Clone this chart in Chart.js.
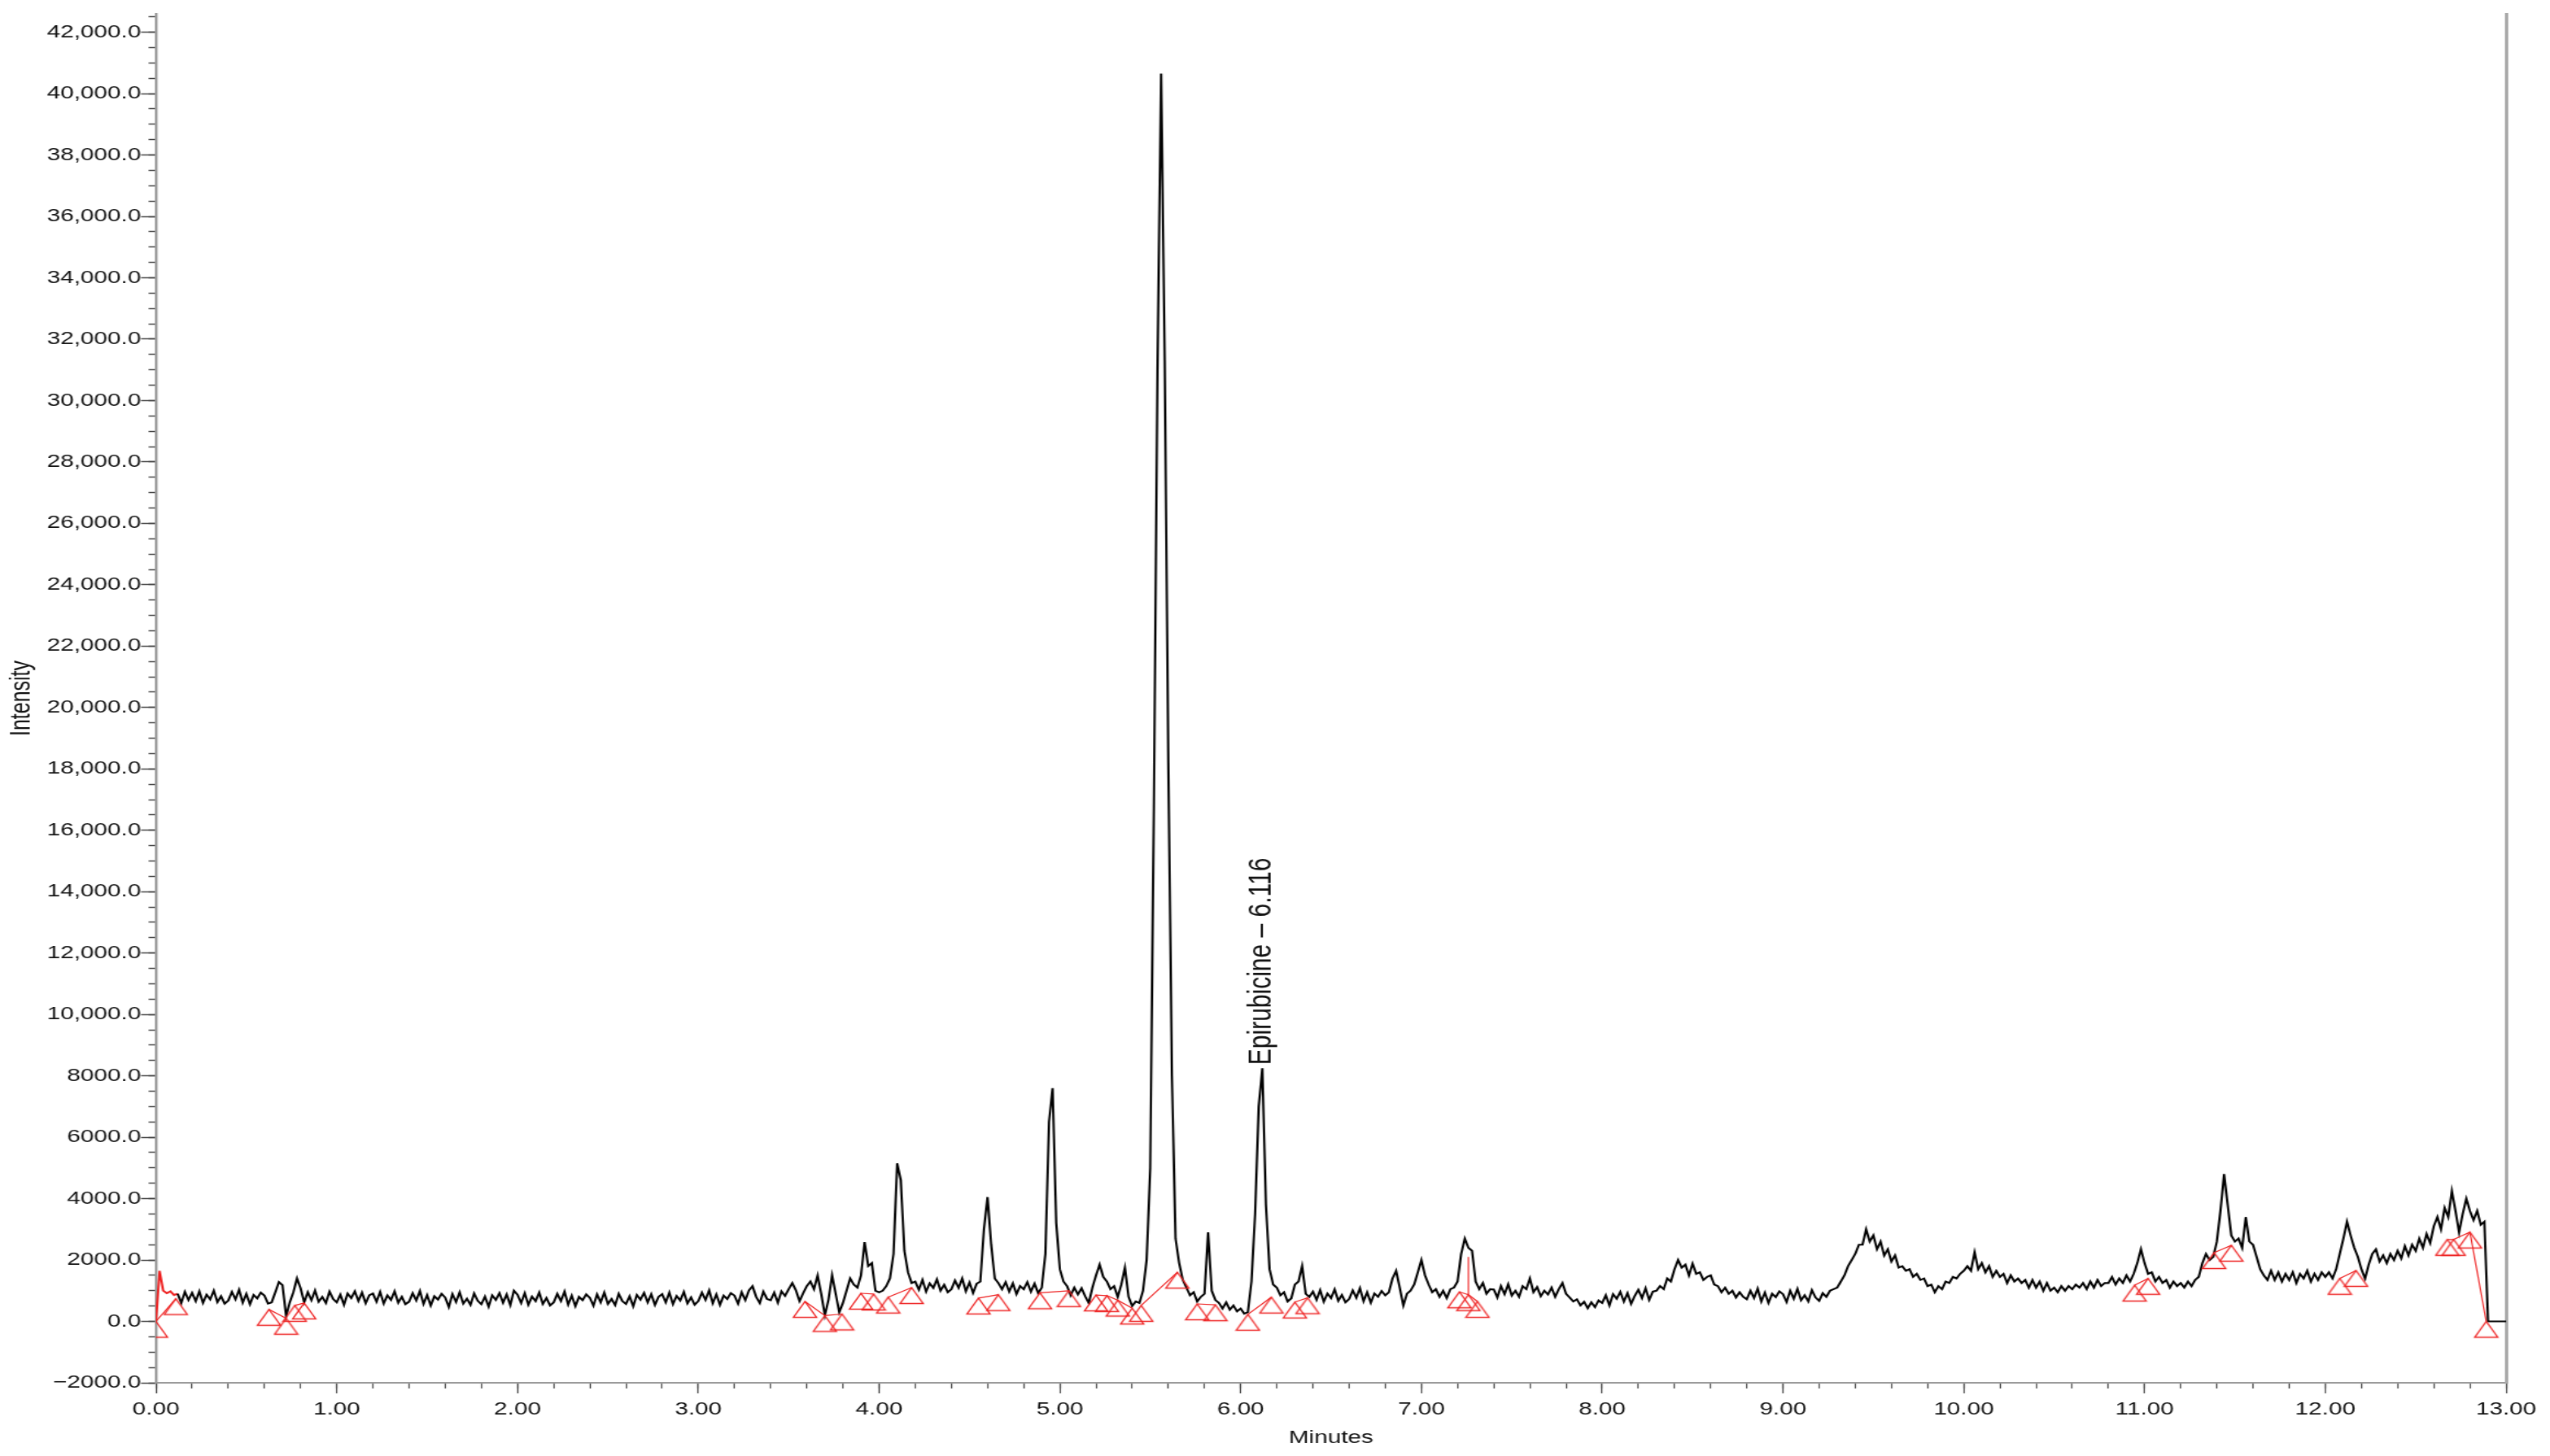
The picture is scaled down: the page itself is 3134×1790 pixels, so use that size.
<!DOCTYPE html>
<html>
<head>
<meta charset="utf-8">
<title>Chromatogram</title>
<script src="https://cdn.jsdelivr.net/npm/chart.js@4.4.1/dist/chart.umd.min.js"></script>
<style>
  html, body { margin: 0; padding: 0; background: #fff; overflow: hidden; }
  /* the source picture is stretched sideways, so draw narrow and widen it */
  #wrap { width: 2322px; height: 1790px; transform: scaleX(1.3497); transform-origin: 0 0; }
</style>
</head>
<body>
<div id="wrap"><canvas id="chrom"></canvas></div>
<script>
// detector trace, one value every 0.02 min from 0.00 to 13.00
const TIME_STEP = 0.02;
const intensity = [
  0, 1650, 1000, 920, 980, 860, 900, 600, 960, 700,
  930, 660, 980, 600, 870, 720, 1000, 630, 820, 580,
  680, 960, 720, 1030, 610, 900, 560, 860, 750, 940,
  840, 580, 620, 950, 1280, 1180, 180, 620, 950, 1400,
  1080, 620, 950, 690, 1010, 640, 800, 600, 970, 730,
  620, 870, 540, 910, 760, 980, 670, 940, 590, 850,
  910, 640, 960, 580, 850, 700, 980, 610, 800, 560,
  640, 920, 680, 990, 570, 860, 520, 820, 710, 900,
  780, 470, 890, 630, 950, 580, 740, 540, 910, 670,
  560, 810, 480, 850, 700, 920, 610, 880, 530, 1000,
  870, 600, 920, 540, 810, 660, 940, 570, 760, 520,
  620, 900, 660, 970, 550, 840, 500, 800, 690, 880,
  770, 510, 880, 620, 940, 570, 730, 530, 900, 660,
  570, 820, 490, 860, 710, 930, 620, 890, 540, 800,
  890, 620, 940, 560, 830, 680, 960, 590, 780, 540,
  660, 940, 700, 1010, 590, 880, 540, 840, 730, 920,
  840, 580, 950, 690, 1010, 1150, 800, 600, 970, 730,
  690, 940, 610, 980, 830, 1050, 1250, 1010, 660, 920,
  1150, 1300, 1050, 1500, 900, 200, 700, 1500, 900, 300,
  600, 1000, 1400, 1200, 1100, 1500, 2580, 1800, 1900, 1000,
  950, 1000, 1150, 1400, 2200, 5150, 4600, 2300, 1600, 1250,
  1300, 1030, 1350, 970, 1240, 1090, 1370, 1000, 1190, 950,
  1050, 1330, 1090, 1400, 980, 1270, 930, 1230, 1300, 3000,
  4050, 2500, 1400, 1250, 1050, 1280, 970, 1240, 890, 1150,
  1050, 1280, 970, 1230, 920, 1100, 2200, 6500, 7600, 3200,
  1700, 1300, 1150, 850, 1100, 880, 1080, 820, 600, 1100,
  1500, 1850, 1450, 1300, 1050, 1150, 800, 1200, 1750, 800,
  500, 650, 600, 1000, 2000, 5000, 16700, 31000, 40650, 31300,
  18200, 8000, 2700, 1900, 1350, 1100, 850, 950, 650, 800,
  900, 2900, 1000, 700, 600, 420, 620, 380, 520, 330,
  420, 250, 300, 1300, 3500, 7000, 8250, 3800, 1700, 1200,
  1100, 850, 950, 650, 750, 1200, 1300, 1800, 900, 800,
  970, 700, 1020, 640, 910, 760, 1040, 670, 860, 620,
  730, 1010, 770, 1080, 660, 950, 610, 910, 800, 990,
  850, 950, 1400, 1650, 1100, 520, 900, 1000, 1200, 1600,
  2000, 1500, 1200, 950, 1050, 800, 1000, 760, 1050, 1100,
  1300, 2200, 2700, 2400, 2300, 1300, 1050, 1250, 900, 1050,
  1040, 780, 1150, 890, 1210, 840, 1000, 800, 1150, 1050,
  1400, 950, 1120, 820, 1000, 880, 1100, 800, 1050, 1250,
  900, 780, 650, 720, 520, 640, 430, 620, 470, 680,
  600, 850, 520, 890, 740, 960, 650, 920, 570, 830,
  1030, 760, 1080, 700, 970, 1000, 1150, 1050, 1400, 1300,
  1700, 2000, 1750, 1850, 1500, 1880, 1550, 1600, 1350, 1450,
  1500, 1200, 1150, 950, 1100, 900, 1000, 780, 950, 800,
  720, 1000, 760, 1070, 650, 940, 600, 900, 790, 980,
  890, 630, 1000, 740, 1060, 690, 850, 650, 1020, 780,
  670, 920, 800, 1000, 1050, 1100, 1300, 1500, 1800, 2000,
  2200, 2500, 2500, 3000, 2600, 2800, 2350, 2600, 2150, 2350,
  1950, 2150, 1750, 1800, 1650, 1700, 1450, 1550, 1350, 1400,
  1150, 1200, 950, 1150, 1050, 1300, 1250, 1450, 1400, 1550,
  1650, 1800, 1650, 2250, 1700, 1900, 1600, 1800, 1450, 1650,
  1450, 1550, 1250, 1500, 1300, 1400, 1250, 1350, 1100, 1350,
  1100, 1300, 1000, 1250, 1000, 1100, 950, 1150, 1000, 1150,
  1050, 1200, 1100, 1250, 1050, 1300, 1100, 1350, 1150, 1250,
  1250, 1450, 1200, 1400, 1250, 1500, 1300, 1550, 1900, 2350,
  1900, 1550, 1600, 1300, 1450, 1250, 1350, 1100, 1300, 1150,
  1250, 1100, 1300, 1150, 1350, 1450, 1900, 2200, 2000, 2100,
  2600, 3600, 4800, 3800, 2800, 2600, 2700, 2400, 3400, 2600,
  2500, 2100, 1700, 1500, 1350, 1650, 1350, 1600, 1300, 1550,
  1350, 1600, 1250, 1550, 1400, 1650, 1300, 1550, 1350, 1600,
  1450, 1600, 1400, 1700, 2200, 2700, 3250, 2800, 2400, 2100,
  1700, 1400, 1850, 2200, 2350, 1950, 2150, 1900, 2200, 2000,
  2300, 2050, 2450, 2150, 2500, 2300, 2700, 2400, 2850, 2550,
  3100, 3400, 3000, 3700, 3400, 4250, 3600, 2900, 3500, 4000,
  3600, 3300, 3600, 3150, 3250, 0, 0, 0, 0, 0,
  0
];

// peak start / end marks (triangles)
const markTimes = [
  0.00, 0.11, 0.625, 0.72, 0.768, 0.82,
  3.59, 3.70, 3.795, 3.90, 3.97, 4.05, 4.18,
  4.55, 4.66, 4.89, 5.05, 5.20, 5.26, 5.32, 5.40,
  5.45, 5.65, 5.76, 5.86, 6.04, 6.17, 6.30, 6.37,
  7.21, 7.26, 7.31,
  10.945, 11.02, 11.385, 11.48, 12.08, 12.17,
  12.675, 12.71, 12.80, 12.89
];
const markValues = [
  0, 740, 390, 100, 520, 600,
  650, 190, 240, 915, 890, 790, 1100,
  760, 870, 930, 1000, 860, 840, 690, 430,
  520, 1600, 570, 540, 230, 790, 630, 770,
  960, 870, 650,
  1180, 1400, 2240, 2480, 1400, 1660,
  2670, 2670, 2910, 0
];
// which marks are joined by a red baseline
const baselineLinks = [
  [0, 1], [2, 3], [4, 5], [6, 7], [7, 8], [9, 10], [11, 12],
  [13, 14], [15, 16], [17, 18], [18, 19], [19, 20], [21, 22],
  [23, 24], [25, 26], [27, 28], [29, 30], [30, 31],
  [32, 33], [34, 35], [36, 37], [38, 39], [39, 40], [40, 41]
];
// red drop line under the 7.26 peak
const dropTime = 7.26;
const dropValues = [2100, 870];

// labelled intensity ticks
const yTickValues = [
  -2000, 0, 2000, 4000, 6000, 8000, 10000, 12000, 14000, 16000, 18000, 20000,
  22000, 24000, 26000, 28000, 30000, 32000, 34000, 36000, 38000, 40000, 42000
];
const peakLabel = { text: 'Epirubicine \u2013 6.116', time: 6.116, value: 8250 };

const Y_MIN = -2000, Y_MAX = 42600;
const RED = '#ee2020';
const FONT = 'Arial, "Liberation Sans", sans-serif';

Chart.defaults.font.family = FONT;
Chart.defaults.color = '#111';

const trace = intensity.map((v, i) => ({ x: +(i * TIME_STEP).toFixed(2), y: v }));
const marks = markTimes.map((t, i) => ({ x: t, y: markValues[i] }));

const baselineData = [];
baselineLinks.forEach(([a, b]) => {
  baselineData.push({ x: markTimes[a], y: markValues[a] });
  baselineData.push({ x: markTimes[b], y: markValues[b] });
  baselineData.push({ x: markTimes[b], y: null });
});
baselineData.push({ x: dropTime, y: dropValues[0] }, { x: dropTime, y: dropValues[1] });

// minor tick marks every 500
const yMinorTicks = [];
for (let v = Y_MIN; v <= 42500; v += 500) yMinorTicks.push(v);

// open triangle whose top corner sits on the data point
function makeTriangle() {
  const c = document.createElement('canvas');
  c.width = 24;
  c.height = 44;
  const g = c.getContext('2d');
  g.strokeStyle = RED;
  g.lineWidth = 1.4;
  g.beginPath();
  g.moveTo(12, 22);
  g.lineTo(22.5, 41.5);
  g.lineTo(1.5, 41.5);
  g.closePath();
  g.stroke();
  return c;
}

function fmtIntensity(v) {
  const a = Math.abs(v);
  const s = a >= 10000
    ? a.toLocaleString('en-US', { minimumFractionDigits: 1, maximumFractionDigits: 1 })
    : a.toFixed(1);
  return (v < 0 ? '\u2212' : '') + s;
}

const peakLabelPlugin = {
  id: 'peakLabel',
  afterDatasetsDraw(chart) {
    const { ctx, scales: { x, y } } = chart;
    const px = x.getPixelForValue(peakLabel.time);
    const py = y.getPixelForValue(peakLabel.value);
    ctx.save();
    ctx.translate(px, py - 4);
    ctx.rotate(-Math.PI / 2);
    ctx.font = '30px ' + FONT;
    ctx.fillStyle = '#111';
    ctx.textAlign = 'left';
    ctx.textBaseline = 'middle';
    ctx.fillText(peakLabel.text, 0, 0);
    ctx.restore();
  }
};

const tickFont = { size: 22, lineHeight: 1 };
const axisGray = '#9a9a9a';
const tickGray = '#444';

new Chart(document.getElementById('chrom'), {
  type: 'line',
  data: {
    datasets: [
      {
        label: 'Marks',
        data: marks,
        showLine: false,
        pointStyle: makeTriangle(),
        pointRadius: 10,
        clip: 0,
        order: 1
      },
      {
        label: 'Baselines',
        data: baselineData,
        borderColor: RED,
        borderWidth: 1.2,
        pointRadius: 0,
        spanGaps: false,
        clip: 0,
        order: 2
      },
      {
        label: 'Intensity',
        data: trace,
        borderColor: '#000',
        borderWidth: 2.1,
        pointRadius: 0,
        tension: 0,
        order: 3,
        segment: {
          borderColor: c => (c.p1.parsed.x <= 0.12 ? RED : undefined)
        }
      }
    ]
  },
  options: {
    responsive: true,
    maintainAspectRatio: false,
    animation: false,
    events: [],
    layout: { padding: { top: 17, right: 32, bottom: 11, left: 0 } },
    plugins: { legend: { display: false }, tooltip: { enabled: false } },
    scales: {
      x: {
        type: 'linear', position: 'bottom', weight: 1, min: 0, max: 13,
        ticks: { stepSize: 1, callback: v => v.toFixed(2), padding: 9, font: tickFont, maxRotation: 0, autoSkip: false },
        grid: { drawOnChartArea: false, tickLength: 13, tickColor: tickGray, tickWidth: 1.2 },
        border: { color: axisGray, width: 2 },
        title: { display: true, text: 'Minutes', font: { size: 22, lineHeight: 1 }, padding: { top: 4, bottom: 0 } }
      },
      xMinor: {
        type: 'linear', position: 'bottom', weight: 0, min: 0, max: 13,
        ticks: { stepSize: 0.2, display: false },
        grid: { drawOnChartArea: false, tickLength: 7, tickColor: tickGray, tickWidth: 1.2 },
        border: { display: false },
        afterFit: s => { s.height = 0; }
      },
      y: {
        type: 'linear', position: 'left', weight: 1, min: Y_MIN, max: Y_MAX,
        ticks: { callback: fmtIntensity, padding: 0, font: { size: 22 } },
        afterBuildTicks: s => { s.ticks = yTickValues.map(value => ({ value })); },
        grid: { drawOnChartArea: false, tickLength: 13.6, tickColor: tickGray, tickWidth: 1.5 },
        border: { color: axisGray, width: 2.4 },
        title: { display: true, text: 'Intensity', font: { size: 25, lineHeight: 1 }, padding: { top: 8, bottom: 0 } },
        afterFit: s => { s.width = 142; }
      },
      yMinor: {
        type: 'linear', position: 'left', weight: 0, min: Y_MIN, max: Y_MAX,
        ticks: { display: false },
        afterBuildTicks: s => { s.ticks = yMinorTicks.map(value => ({ value })); },
        grid: { drawOnChartArea: false, tickLength: 6.7, tickColor: tickGray, tickWidth: 1.5 },
        border: { display: false },
        afterFit: s => { s.width = 0; }
      },
      yRight: {
        type: 'linear', position: 'right', min: Y_MIN, max: Y_MAX,
        ticks: { display: false },
        grid: { display: false },
        border: { color: '#a8a8a8', width: 3 }
      }
    }
  },
  plugins: [peakLabelPlugin]
});
</script>
</body>
</html>
